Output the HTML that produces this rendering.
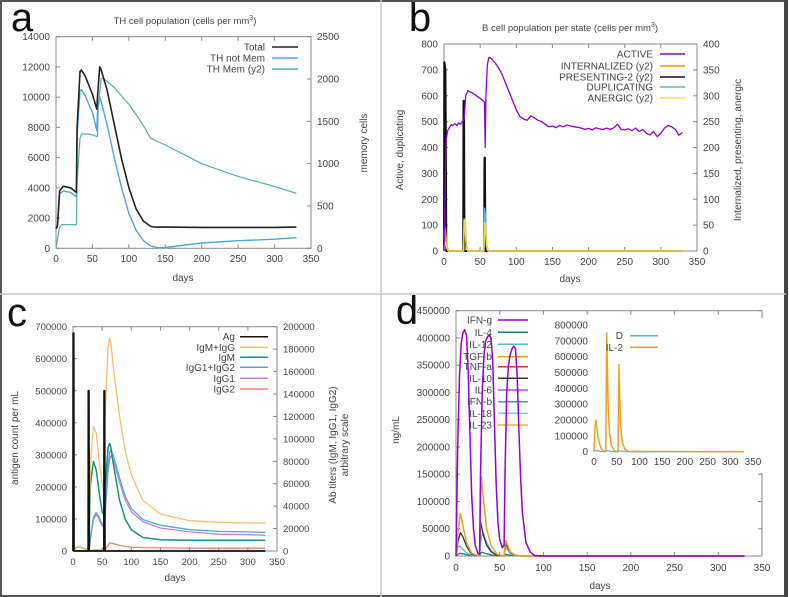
<!DOCTYPE html>
<html><head><meta charset="utf-8">
<style>
html,body{margin:0;padding:0;background:#fff;}
svg{display:block;font-family:"Liberation Sans",sans-serif;}
</style></head>
<body>
<svg id="fig" width="789" height="597" viewBox="0 0 789 597">
<rect x="0" y="0" width="789" height="597" fill="#fff"/>
</svg>
<script>
// ===== Panel a data =====
const aTotalDays=[0,2,5,10,20,28,29,33,35,40,50,56,57,60,62,70,80,90,100,110,120,130,135,150,200,250,300,330];
const aTotalVals=[1300,1500,3800,4100,4000,3700,8000,11700,11800,11400,10200,9200,10000,12000,11800,10500,8200,5900,4000,2600,1800,1450,1400,1400,1380,1380,1380,1400];
const aNotMemDays=[0,2,5,10,20,28,29,33,35,40,50,56,57,60,62,70,80,90,100,110,120,130,140,150,200,250,300,330];
const aNotMemVals=[1300,1400,3600,3800,3700,3400,7500,10400,10500,10100,9000,7800,9000,10000,9700,8200,6000,4000,2300,1200,500,150,30,50,350,500,600,700];
const aMemDays=[0,5,8,28,29,33,35,45,57,58,62,65,80,100,110,120,130,150,200,250,300,330];
const aMemVals=[0,250,280,280,800,1300,1350,1350,1320,1700,2000,2010,1900,1700,1580,1450,1300,1220,1000,850,730,650];
const aYTicks=[0,2000,4000,6000,8000,10000,12000,14000];
const aY2Ticks=[0,500,1000,1500,2000,2500];
const xTicks=[0,50,100,150,200,250,300,350];
// ===== Panel b data =====
const bActiveDays=[0,1,2,3,5,8,10,12,15,18,20,23,25,27,28,29,30,33,36,40,45,50,55,56,57,58,60,62,65,70,75,80,85,90,95,100,105,110,115,120,125,130,135,140,145,150,155,160,165,170,175,180,185,190,195,200,205,210,215,220,225,230,235,240,245,250,255,260,265,270,275,280,285,290,295,300,305,310,315,320,325,330];
const bActiveVals=[0,100,300,430,465,480,488,485,492,485,495,490,500,505,510,560,600,620,615,610,600,590,578,575,400,600,720,748,745,730,710,685,650,615,580,545,520,510,505,522,515,505,500,490,480,483,477,485,480,487,483,480,478,475,470,474,468,476,472,470,475,470,476,490,470,468,472,465,475,462,470,455,448,462,442,455,475,485,480,470,448,458];
const bSpikeDays=[0,0.4,1,2,2.6,3.2,26.5,27,27.6,28.3,55.5,56,56.6,57.3,330];
const bPresentVals=[0,365,362,350,200,0,0,290,290,0,0,180,180,0,0];
const bInternDays=[0,1,2,4,6,27,28,29,31,33,55,56,57,59,61,330];
const bInternVals=[0,48,40,10,0,0,60,55,10,0,0,55,50,10,0,0];
const bDupDays=[0,1,2,4,6,27,28,29,31,33,55,56,57,59,61,330];
const bDupVals=[0,80,60,15,0,0,125,110,20,0,0,165,140,25,0,0];
const bAnergicDays=[0,1,2,4,6,27,28,29,31,33,55,56,57,59,61,330];
const bAnergicVals=[0,15,18,5,0,0,60,55,10,0,0,55,50,10,0,0];
const bYTicks=[0,100,200,300,400,500,600,700,800];
const bY2Ticks=[0,50,100,150,200,250,300,350,400];
// ===== Panel c data =====
const cAgDays=[0,0.3,1.2,1.8,26,26.4,27.2,27.8,53,53.4,54.2,54.8,330];
const cAgVals=[0,680000,680000,0,0,500000,500000,0,0,500000,500000,0,0];
const cIgDays=[0,5,10,20,26,28,30,35,40,45,50,53,55,60,63,65,70,80,90,100,120,150,200,250,300,330];
const cIgTotVals=[0,3000,4000,2000,1000,30000,80000,111000,105000,80000,60000,56000,120000,180000,190000,185000,160000,120000,88000,68000,45000,33000,27000,25500,25000,25000];
const cIgMVals=[0,3000,4000,2000,800,25000,60000,80000,72000,52000,35000,32000,55000,92000,96000,92000,75000,45000,28000,19000,12000,10000,9500,9500,9500,9500];
const cIgG12Vals=[0,0,0,0,0,3000,12000,30000,34500,30000,24000,23000,35000,75000,88000,90000,84000,65000,48000,38000,28000,23000,19000,17500,17000,16600];
const cIgG1Vals=[0,0,0,0,0,2800,11000,28000,32500,28000,22500,21500,32000,70000,82000,85000,80000,61000,45000,35000,26000,20500,17000,15000,14500,14000];
const cIgG2Vals=[0,0,0,0,0,0,300,800,1000,900,800,700,1500,5000,7000,7000,6500,5000,4000,3500,3000,2800,2600,2500,2500,2500];
const cYTicks=[0,100000,200000,300000,400000,500000,600000,700000];
const cY2Ticks=[0,20000,40000,60000,80000,100000,120000,140000,160000,180000,200000];
// ===== Panel d data =====
const dIfnDays=[0,2,4,6,8,10,12,14,16,18,20,22,25,27,28,30,32,34,36,38,40,42,44,46,48,50,53,55,56,58,60,62,64,66,68,70,72,74,76,80,85,90,100,330];
const dIfnVals=[0,200000,330000,390000,410000,415000,405000,340000,220000,110000,50000,20000,5000,3000,150000,300000,370000,395000,402000,405000,400000,360000,240000,130000,60000,30000,15000,20000,150000,300000,350000,370000,380000,385000,380000,330000,230000,140000,80000,25000,7000,1000,0,0];
const dCytDays=[0,2,5,8,12,18,27,28,29,31,35,40,47,55,56,57,59,62,67,75,330];
const dTgfVals=[0,40000,78000,55000,25000,5000,0,90000,145000,110000,50000,20000,3000,0,20000,28000,20000,8000,2000,0,0];
const dIl10Vals=[0,25000,43000,35000,18000,3000,0,63000,55000,40000,20000,8000,1000,0,15000,22000,16000,7000,1500,0,0];
const dIl12Vals=[0,18000,17000,12000,6000,1000,0,20000,35000,43000,25000,10000,1000,0,10000,15000,12000,5000,1000,0,0];
const dIl4Vals=[0,3000,5000,4000,2500,1000,0,4000,7000,6000,4000,2000,500,0,2000,3000,2500,1500,500,0,0];
const dYTicks=[0,50000,100000,150000,200000,250000,300000,350000,400000,450000];
const dInDays=[0,2,4,6,9,14,20,26,27,28,29,31,34,38,45,53,54,55,56,58,62,68,75,330];
const dIl2Vals=[0,150000,200000,160000,90000,30000,5000,2000,400000,750000,600000,300000,120000,40000,5000,2000,300000,550000,420000,200000,60000,15000,2000,0];
const dDVals=[0,6000,8000,7000,5000,2000,500,0,3000,6000,7000,6000,4000,2000,500,0,2000,5000,6000,5000,3000,1000,0,0];
const dInYTicks=[0,100000,200000,300000,400000,500000,600000,700000,800000];

const NS="http://www.w3.org/2000/svg";
const svg=document.getElementById('fig');
function el(tag,attrs,parent){const e=document.createElementNS(NS,tag);for(const k in attrs)e.setAttribute(k,attrs[k]);(parent||svg).appendChild(e);return e;}
function lin(d0,d1,p0,p1){return v=>p0+(v-d0)/(d1-d0)*(p1-p0);}
function txt(x,y,s,anchor,size,name,parent,extra){const t=el('text',Object.assign({x:x,y:y,'text-anchor':anchor||'middle','font-size':size||10,fill:'#444'},extra||{}),parent);t.textContent=s;


return t;}
function line(days,vals,sx,sy,color,w,name,parent){
  const pts=days.map((d,i)=>sx(d).toFixed(1)+','+sy(vals[i]).toFixed(1)).join(' ');
  const p=el('polyline',{points:pts,fill:'none',stroke:color,'stroke-width':w||1.3,'stroke-linejoin':'round'},parent);
  
  
  return p;
}
function frame(x0,x1,y0,y1,xt,sx,yt,sy,y2t,sy2,name,xLabY,fs){
  const g=el('g',{});
  
  
  el('rect',{x:x0,y:y1,width:x1-x0,height:y0-y1,fill:'none',stroke:'#888','stroke-width':1},g);
  xt.forEach(v=>{const x=sx(v);el('line',{x1:x,x2:x,y1:y0,y2:y0-4,stroke:'#888'},g);el('line',{x1:x,x2:x,y1:y1,y2:y1+4,stroke:'#888'},g);
    txt(x,xLabY,String(v),'middle',fs||10,'x-tick-label',g);});
  yt.forEach(v=>{const y=sy(v);el('line',{x1:x0,x2:x0+4,y1:y,y2:y,stroke:'#888'},g);if(!y2t)el('line',{x1:x1,x2:x1-4,y1:y,y2:y,stroke:'#888'},g);
    txt(x0-6,y+3.5,String(v),'end',fs||10,'y-tick-label',g);});
  if(y2t)y2t.forEach(v=>{const y=sy2(v);el('line',{x1:x1,x2:x1-4,y1:y,y2:y,stroke:'#888'},g);
    txt(x1+6,y+3.5,String(v),'start',fs||10,'y2-tick-label',g);});
  return g;
}
function legend(items,tx,lx0,lx1,ys,g){items.forEach((it,i)=>{
  txt(tx,ys[i]+3.5,it[0],'end',10,'legend-label',g);
  const l=el('line',{x1:lx0,x2:lx1,y1:ys[i],y2:ys[i],stroke:it[1],'stroke-width':1.5},g);
  
  
});}

// figure borders
el('rect',{x:1,y:1,width:785,height:595,fill:'none',stroke:'#555','stroke-width':2});
el('line',{x1:786,x2:786,y1:0,y2:597,stroke:'#444','stroke-width':4});
el('line',{x1:381,x2:381,y1:0,y2:597,stroke:'#c8c8c8','stroke-width':1.5});
el('line',{x1:0,x2:786,y1:294,y2:294,stroke:'#c8c8c8','stroke-width':1.5});

// panel letters
txt(22,31,'a','middle',40,'panel-letter-a',null,{fill:'#111'});
txt(420,31,'b','middle',40,'panel-letter-b',null,{fill:'#111'});
txt(17,326,'c','middle',40,'panel-letter-c',null,{fill:'#111'});
txt(407,324,'d','middle',40,'panel-letter-d',null,{fill:'#111'});

// ===== Panel a =====
(function(){
 const sx=lin(0,350,56,311), sy=lin(0,14000,248.3,36.7), sy2=lin(0,2500,248.3,36.7);
 const g=frame(56,311,248.3,36.7,xTicks,sx,aYTicks,sy,aY2Ticks,sy2,'panel-a-axes',262);
 txt(185,24,'TH cell population (cells per mm','middle',9.5,'panel-a-title').innerHTML='TH cell population (cells per mm<tspan dy="-4" font-size="7">3</tspan><tspan dy="4">)</tspan>';
 txt(183,281,'days','middle',10,'x-axis-title-a');
 txt(367,143,'memory cells','middle',10,'y2-axis-title-a',null,{transform:'rotate(-90 367 143)'});
 line(aMemDays,aMemVals,sx,sy2,'#4fb3a0',1.2,'series-th-mem');
 line(aNotMemDays,aNotMemVals,sx,sy,'#4aa8dc',1.4,'series-th-not-mem');
 line(aTotalDays,aTotalVals,sx,sy,'#222',1.6,'series-total');
 legend([['Total','#222'],['TH not Mem','#4aa8dc'],['TH Mem (y2)','#4fb3a0']],265,272,298,[47,58,69],g);
})();

// ===== Panel b =====
(function(){
 const sx=lin(0,350,444,697), sy=lin(0,800,251,44), sy2=lin(0,400,251,44);
 const g=frame(444,697,251,44,xTicks,sx,bYTicks,sy,bY2Ticks,sy2,'panel-b-axes',265);
 txt(570,31,'','middle',9.5,'panel-b-title').innerHTML='B cell population  per state (cells per mm<tspan dy="-4" font-size="7">3</tspan><tspan dy="4">)</tspan>';
 txt(570,282,'days','middle',10,'x-axis-title-b');
 txt(403,150,'Active, duplicating','middle',10,'y-axis-title-b',null,{transform:'rotate(-90 403 150)'});
 txt(741,150,'Internalized, presenting, anergic','middle',10,'y2-axis-title-b',null,{transform:'rotate(-90 741 150)'});
 line(bSpikeDays,bPresentVals,sx,sy2,'#111',2,'series-presenting');
 line(bDupDays,bDupVals,sx,sy,'#56b4e9',1.5,'series-duplicating');
 line(bInternDays,bInternVals,sx,sy2,'#e69f00',1.5,'series-internalized');
 line(bAnergicDays,bAnergicVals,sx,sy2,'#e8d84a',1.5,'series-anergic');
 line(bActiveDays,bActiveVals,sx,sy,'#9400d3',1.3,'series-active');
 legend([['ACTIVE','#9400d3'],['INTERNALIZED (y2)','#e69f00'],['PRESENTING-2 (y2)','#111'],['DUPLICATING','#56b4e9'],['ANERGIC (y2)','#f0e060']],653,660,685,[54,66,77,87,98],g);
})();

// ===== Panel c =====
(function(){
 const sx=lin(0,350,73,277), sy=lin(0,700000,551,326.7), sy2=lin(0,200000,551,326.7);
 const g=frame(73,277,551,326.7,xTicks,sx,cYTicks,sy,cY2Ticks,sy2,'panel-c-axes',565,9.5);
 txt(175,581,'days','middle',10,'x-axis-title-c');
 txt(18,438,'antigen count per mL','middle',10,'y-axis-title-c',null,{transform:'rotate(-90 18 438)'});
 txt(336,445,'Ab titers (IgM, IgG1, IgG2)','middle',10,'y2-axis-title-c',null,{transform:'rotate(-90 336 445)'});
 txt(348,445,'arbitrary scale','middle',10,'y2-axis-title-c2',null,{transform:'rotate(-90 348 445)'});
 line(cIgDays,cIgG2Vals,sx,sy2,'#f08070',1.3,'series-igg2');
 line(cIgDays,cIgG1Vals,sx,sy2,'#c77ee0',1.3,'series-igg1');
 line(cIgDays,cIgG12Vals,sx,sy2,'#4aa8dc',1.3,'series-igg1-igg2');
 line(cIgDays,cIgMVals,sx,sy2,'#14947a',1.5,'series-igm');
 line(cIgDays,cIgTotVals,sx,sy2,'#f5c06a',1.3,'series-igm-igg');
 line(cAgDays,cAgVals,sx,sy,'#111',1.8,'series-ag');
 legend([['Ag','#111'],['IgM+IgG','#f5c06a'],['IgM','#14947a'],['IgG1+IgG2','#4aa8dc'],['IgG1','#c77ee0'],['IgG2','#f08070']],235,240,268,[336.7,347.3,357.3,367.3,378.3,389],g);
})();

// ===== Panel d =====
(function(){
 const sx=lin(0,350,456,762), sy=lin(0,450000,556,310.7);
 const g=frame(456,762,556,310.7,xTicks,sx,dYTicks,sy,null,null,'panel-d-axes',571);
 txt(600,589,'days','middle',10,'x-axis-title-d');
 txt(399,430,'ng/mL','middle',10,'y-axis-title-d',null,{transform:'rotate(-90 399 430)'});
 line(dCytDays,dIl4Vals,sx,sy,'#1a7f7f',1.3,'series-il4');
 line(dCytDays,dIl12Vals,sx,sy,'#56b4e9',1.3,'series-il12');
 line(dCytDays,dIl10Vals,sx,sy,'#333',1.3,'series-il10');
 line(dCytDays,dTgfVals,sx,sy,'#f0a020',1.5,'series-tgfb');
 line(dIfnDays,dIfnVals,sx,sy,'#9400d3',1.5,'series-ifng');
 legend([['IFN-g','#9400d3'],['IL-4','#1a7f7f'],['IL-12','#56b4e9'],['TGF-b','#f0a020'],['TNF-a','#e03030'],['IL-10','#333'],['IL-6','#cc44dd'],['IFN-b','#3aa5a0'],['IL-18','#7ec8e3'],['IL-23','#f0b040']],492,498,528,[320,332.3,344.3,356.7,366.7,378.3,390,401.7,413.3,425],g);
 // inset
 const ix=lin(0,350,594,753), iy=lin(0,800000,451.7,325);
 el('rect',{x:545,y:318,width:225,height:155,fill:'#fff'});
 const gi=el('g',{});
 
 
 xTicks.forEach(v=>txt(ix(v),465,String(v),'middle',10,'inset-x-tick-label',gi));
 dInYTicks.forEach(v=>txt(588,iy(v)+3.5,String(v),'end',10,'inset-y-tick-label',gi));
 line(dInDays,dDVals,ix,iy,'#56b4e9',1.3,'series-d',gi);
 line(dInDays,dIl2Vals,ix,iy,'#f0a020',1.5,'series-il2',gi);
 legend([['D','#56b4e9'],['IL-2','#f0a020']],623,630,658,[335.7,347.3],gi);
})();
</script>
</body></html>
